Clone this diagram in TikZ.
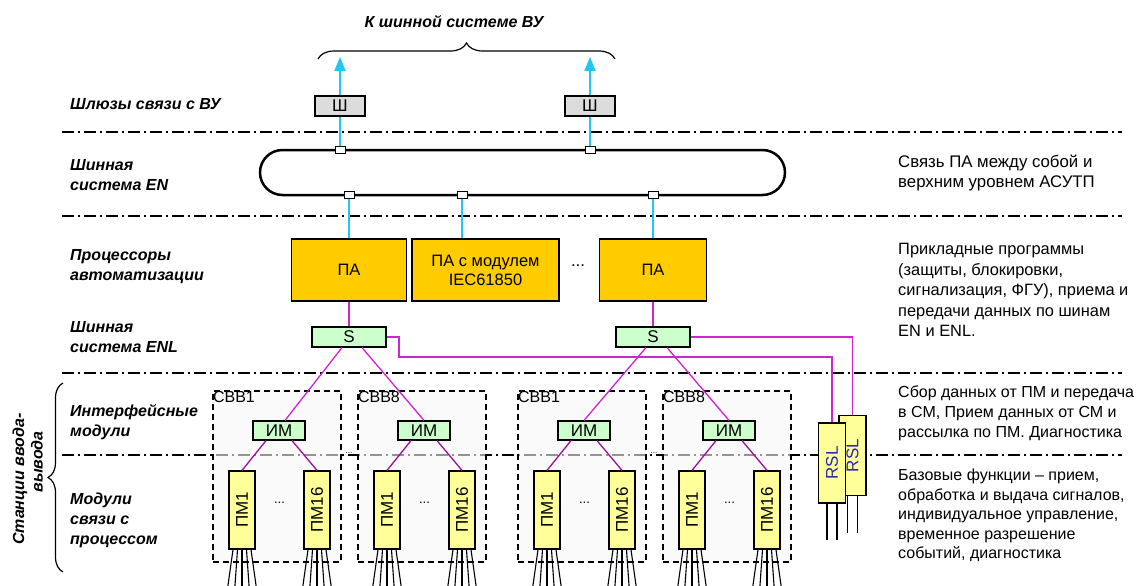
\documentclass[tikz,border=0pt]{standalone}
\usepackage{fontspec}
\setmainfont{Liberation Sans}
\usepackage{graphicx}
\usetikzlibrary{arrows.meta,decorations.pathreplacing}
\definecolor{buscyan}{HTML}{1EC8F5}
\definecolor{paorange}{HTML}{FFCC00}
\definecolor{swgreen}{HTML}{CCFFCC}
\definecolor{pmyellow}{HTML}{FFFF99}
\definecolor{gwgray}{HTML}{DCDCDC}
\definecolor{linkmag}{HTML}{D024D0}
\definecolor{linkpurp}{HTML}{9A109A}
\definecolor{rslblue}{HTML}{2828B4}
\tikzset{
  lvl/.style={font=\fontsize{16}{20}\selectfont\bfseries\itshape, anchor=west, align=left, inner sep=0pt},
  note/.style={anchor=west, align=left, inner sep=0pt},
  sepline/.style={line width=1.3pt, dash pattern=on 12pt off 4pt on 2pt off 4pt},
  gwbox/.style={draw, fill=gwgray, line width=1.1pt, minimum width=50pt, minimum height=20pt, inner sep=0pt, font=\fontsize{17}{20}\selectfont},
  port/.style={draw, fill=white, line width=1pt, minimum width=10pt, minimum height=7pt, inner sep=0pt},
  pabox/.style={draw, fill=paorange, line width=1.2pt, minimum height=62pt, inner sep=0pt, align=center, font=\fontsize{16.5}{19}\selectfont},
  swbox/.style={draw, fill=swgreen, line width=1.2pt, minimum width=74pt, minimum height=20pt, inner sep=0pt, font=\fontsize{17}{20}\selectfont},
  imbox/.style={draw, fill=swgreen, line width=1.2pt, minimum width=52pt, minimum height=19pt, inner sep=0pt, font=\fontsize{17}{20}\selectfont},
  pmbox/.style={draw, fill=pmyellow, line width=1.2pt, minimum width=26pt, minimum height=78pt, inner sep=0pt, font=\fontsize{17}{20}\selectfont},
  rslbox/.style={draw, fill=pmyellow, line width=1.2pt, minimum width=27pt, minimum height=80pt, inner sep=0pt, font=\fontsize{17}{20}\selectfont, text=rslblue},
  cbbbox/.style={draw, dash pattern=on 6pt off 4pt, line width=1.2pt, fill=black!3, fill opacity=0.6, minimum width=128pt, minimum height=171pt, inner sep=0pt},
  cyanlink/.style={buscyan, line width=2pt},
  maglink/.style={linkmag, line width=1.3pt},
  purplink/.style={linkpurp, line width=1.3pt},
  wire/.style={black, line width=1.1pt}
}
\begin{document}
\begin{tikzpicture}[x=1pt,y=-1pt,font=\fontsize{16.8}{20.5}\selectfont]
\useasboundingbox (0,0) rectangle (1141,586);

% title and upper brace
\node[font=\fontsize{16}{20}\selectfont\bfseries\itshape] (title) at (454,22) {К шинной системе ВУ};
\draw[line width=1.2pt, decorate, decoration={brace, amplitude=16pt}] (318,59) -- (615,59);

% level separators
\foreach \y in {132,216,373,455}
  \draw[sepline] (62,\y) -- (1122,\y);

% level names
\node[lvl] (lgw) at (70,104) {Шлюзы связи с ВУ};
\node[lvl] (len) at (70,175) {Шинная\\система EN};
\node[lvl] (lpa) at (70,266.5) {Процессоры\\автоматизации};
\node[lvl] (lenl) at (70,337) {Шинная\\система ENL};
\node[lvl] (lim) at (70,422) {Интерфейсные\\модули};
\node[lvl] (lpm) at (70,520) {Модули\\связи с\\процессом};
\node[lvl, anchor=center, rotate=90] (lst1) at (20,479) {Станции ввода-};
\node[lvl, anchor=center, rotate=90] (lst2) at (37,462) {вывода};
\draw[line width=1.2pt, decorate, decoration={brace, amplitude=15pt}] (63,572) -- (63,383);

% descriptions
\node[note] (n1) at (898,173) {Связь ПА между собой и\\верхним уровнем АСУТП};
\node[note, font=\fontsize{16.4}{20.5}\selectfont] (n2) at (898,290) {Прикладные программы\\(защиты, блокировки,\\сигнализация, ФГУ), приема и\\передачи данных по шинам\\EN и ENL.};
\node[note, font=\fontsize{16}{20}\selectfont] (n3) at (898,413) {Сбор данных от ПМ и передача\\в СМ, Прием данных от СМ и\\рассылка по ПМ. Диагностика};
\node[note, font=\fontsize{16}{19.4}\selectfont] (n4) at (898,515.5) {Базовые функции – прием,\\обработка и выдача сигналов,\\индивидуальное управление,\\временное разрешение\\событий, диагностика};

% bus EN
\draw[line width=2.5pt, rounded corners=22.5pt] (260,150) rectangle (785,195);

% gateways
\node[gwbox] (gwL) at (340,106) {Ш};
\node[gwbox] (gwR) at (590,106) {Ш};
\coordinate (upL) at (340,57);
\coordinate (upR) at (590,57);
\node[port] (pt1) at (340,150) {};
\node[port] (pt2) at (590,150) {};
\draw[cyanlink] (pt1) -- (gwL);
\draw[cyanlink] (pt2) -- (gwR);
\draw[cyanlink, -{Triangle[length=14pt,width=11pt]}] (gwL) -- (upL);
\draw[cyanlink, -{Triangle[length=14pt,width=11pt]}] (gwR) -- (upR);

% automation processors
\node[pabox, minimum width=115pt] (paL) at (349,270) {ПА};
\node[pabox, minimum width=147pt] (paM) at (485.5,270) {ПА с модулем\\IEC61850};
\node[pabox, minimum width=107pt] (paR) at (653,270) {ПА};
\node (pdots) at (578,266) {...};
\node[port] (pb1) at (349,195) {};
\node[port] (pb2) at (462,195) {};
\node[port] (pb3) at (653,195) {};
\draw[cyanlink] (pb1) -- (paL);
\draw[cyanlink] (pb2) -- (pb2 |- paM.north);
\draw[cyanlink] (pb3) -- (paR);

% bus ENL switches
\node[swbox] (swL) at (349,337) {S};
\node[swbox] (swR) at (653,337) {S};
\draw[maglink] (paL) -- (swL);
\draw[maglink] (paR) -- (swR);

% I/O stations
\foreach \i/\x/\t in {1/213/СВВ1,2/358/СВВ8,3/518/СВВ1,4/663/СВВ8} {
  \node[cbbbox] (cbb\i) at (\x+64,476.5) {};
  \node[anchor=north west, inner sep=0.5pt, font=\fontsize{16}{18}\selectfont] (cbbt\i) at (cbb\i.north west) {\t};
}
\foreach \i/\x in {1/213,2/358,3/518,4/663} {
  \node[imbox] (im\i) at (\x+66,430.5) {ИМ};
  \node[pmbox] (pma\i) at (\x+29,510) {\rotatebox{90}{ПМ1}};
  \node[pmbox] (pmb\i) at (\x+104,510) {\rotatebox{90}{ПМ16}};
  \node[font=\fontsize{13}{15}\selectfont] (pmd\i) at (\x+66.5,503) {...};
  \draw[purplink] ([xshift=-13pt]im\i.south) -- (pma\i.north);
  \draw[purplink] ([xshift=13pt]im\i.south) -- (pmb\i.north);
  \foreach \p in {pma\i,pmb\i}
    \foreach \d in {-2,-1,0,1,2}
      \draw[wire] ([xshift=\d*4.5pt]\p.south) -- ++(\d*2.6,37);
}
\node[font=\fontsize{8}{9}\selectfont] (sdots1) at (349,453) {...};
\node[font=\fontsize{8}{9}\selectfont] (sdots2) at (654,453) {...};

% switch to interface modules
\draw[maglink] ([xshift=-7pt]swL.south) -- ([xshift=6pt]im1.north);
\draw[maglink] ([xshift=13pt]swL.south) -- (im2.north);
\draw[maglink] ([xshift=-7pt]swR.south) -- (im3.north);
\draw[maglink] ([xshift=14pt]swR.south) -- (im4.north);

% redundant RSL links
\node[rslbox] (rsl2) at (852.5,455.5) {\rotatebox{90}{RSL}};
\node[rslbox] (rsl1) at (832,463) {\rotatebox{90}{RSL}};
\coordinate (bendL) at (399,357);
\draw[maglink] (swL.east) -| (bendL) -| (rsl1.north);
\draw[maglink] (swR.east) -| (rsl2.north);
\foreach \d in {-5,5} {
  \draw[wire] ([xshift=\d pt]rsl1.south) -- ++(0,36);
  \draw[wire] ([xshift=\d pt]rsl2.south) -- ++(0,37);
}
\end{tikzpicture}
\end{document}
